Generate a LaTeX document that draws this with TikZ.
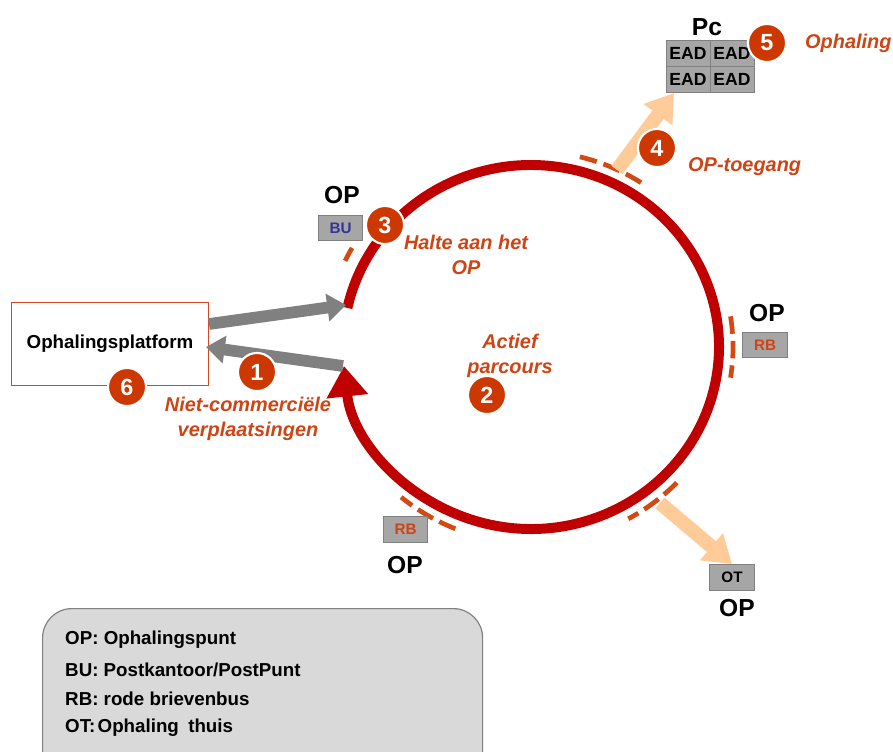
\documentclass[tikz,border=0pt]{standalone}
\usepackage{fontspec}
\setmainfont{Liberation Sans}
\usetikzlibrary{arrows.meta}

\definecolor{ringred}{RGB}{192,0,0}
\definecolor{badgered}{RGB}{204,56,0}
\definecolor{labelred}{RGB}{206,68,20}
\definecolor{dashred}{RGB}{212,72,18}
\definecolor{peach}{RGB}{255,204,153}
\definecolor{arrowgray}{RGB}{128,128,128}
\definecolor{boxgray}{RGB}{166,166,166}
\definecolor{boxedge}{RGB}{128,128,128}
\definecolor{legendfill}{RGB}{217,217,217}
\definecolor{bublue}{RGB}{51,51,153}
\definecolor{platformedge}{RGB}{212,74,30}

\begin{document}
\begin{tikzpicture}[x=0.03cm,y=-0.03cm,
  ring/.style={draw=ringred,line width=8.5pt},
  dashring/.style={draw=dashred,line width=4pt,dash pattern=on 15pt off 6pt},
  badge/.style={circle,fill=badgered,draw=white,line width=1.8pt,minimum size=32.5pt,
    inner sep=0pt,text=white,font=\bfseries\fontsize{20}{20}\selectfont},
  oplabel/.style={font=\bfseries\fontsize{21}{21}\selectfont,inner sep=0pt},
  graybox/.style={rectangle,fill=boxgray,draw=boxedge,line width=0.9pt,
    minimum width=38pt,minimum height=22pt,inner sep=0pt,
    font=\bfseries\fontsize{13}{13}\selectfont},
  eadcell/.style={rectangle,fill=boxgray,draw=boxedge,line width=0.8pt,
    minimum width=37.6pt,minimum height=22.2pt,inner sep=0pt,
    font=\bfseries\fontsize{15}{15}\selectfont},
  stepnote/.style={text=labelred,font=\bfseries\itshape\fontsize{17}{21}\selectfont,
    align=center,inner sep=0pt},
  grayarrow/.style={draw=arrowgray,line width=10pt,
    -{Triangle[length=16pt,width=23pt,fill=arrowgray]}},
  peacharrow/.style={draw=peach,line width=12pt,
    -{Triangle[length=23pt,width=29pt,fill=peach]}},
  legendline/.style={anchor=west,inner sep=0pt,font=\bfseries\fontsize{16}{16}\selectfont}
]
\useasboundingbox (0,0) rectangle (893,751);
\clip (0,0) rectangle (893,751);

% the collection round
\coordinate (ctr) at (531,347);
\draw[ring,-{Triangle[length=26pt,width=34pt,fill=ringred]}]
  (ctr) ++(-167.6:188 and 182) arc[start angle=-167.6,end angle=174,x radius=188,y radius=182];

% dashed marks for the collection points along the round
\draw[dashring] (ctr) ++(-76:202 and 196) arc[start angle=-76,end angle=-57,x radius=202,y radius=196];
\draw[dashring] (ctr) ++(-9:202 and 196) arc[start angle=-9,end angle=9,x radius=202,y radius=196];
\draw[dashring] (ctr) ++(43.8:202 and 196) arc[start angle=43.8,end angle=61.2,x radius=202,y radius=196];
\draw[dashring] (ctr) ++(112:202 and 196) arc[start angle=112,end angle=130,x radius=202,y radius=196];
\draw[draw=dashred,line width=4pt] (ctr) ++(-154.5:206 and 200) arc[start angle=-154.5,end angle=-150.3,x radius=206,y radius=200];

% collection platform
\node[rectangle,draw=platformedge,line width=1.3pt,minimum width=168pt,minimum height=71pt,
  font=\bfseries\fontsize{16}{16}\selectfont] (platform) at (110,344) {Ophalingsplatform};

% journeys to and from the platform
\coordinate (outA) at (209,324);
\coordinate (ringIn) at (346,305);
\coordinate (ringOut) at (343,366);
\coordinate (inA) at (206,347);
\draw[grayarrow] (outA) -- (ringIn);
\draw[grayarrow] (ringOut) -- (inA);

% post office stop
\node[oplabel] (opbu) at (342,195) {OP};
\node[graybox,text=bublue] (bu) at (340.5,228) {BU};

% red letter box on the right
\node[oplabel] (oprb1) at (767,313) {OP};
\node[graybox,text=labelred] (rb1) at (765,345) {RB};

% red letter box at the bottom
\node[graybox,text=labelred] (rb2) at (405.5,529.5) {RB};
\node[oplabel] (oprb2) at (405,565) {OP};

% home collection
\coordinate (otStart) at (660,503);
\node[graybox,text=black,minimum width=39pt] (ot) at (732,577.5) {OT};
\node[oplabel] (opot) at (737,608) {OP};
\draw[peacharrow] (otStart) -- (ot.north);

% business customer with its EAD boxes
\node[oplabel] (pc) at (707,27) {Pc};
\node[eadcell] (ead1) at (688,53) {EAD};
\node[eadcell] (ead2) at (732,53) {EAD};
\node[eadcell] (ead3) at (688,79) {EAD};
\node[eadcell] (ead4) at (732,79) {EAD};
\coordinate (pcStart) at (617,170);
\coordinate (pcIn) at (674,93);
\draw[peacharrow] (pcStart) -- (pcIn);

% step labels
\node[stepnote] (t1) at (248,419) {Niet-commerciële\\verplaatsingen};
\node[stepnote] (t2) at (510,356) {Actief\\parcours};
\node[stepnote] (t3) at (466,255) {Halte aan het\\OP};
\node[stepnote,anchor=west] (t4) at (688,167) {OP-toegang};
\node[stepnote,anchor=west] (t5) at (805,43) {Ophaling};

% numbered steps
\node[badge] (b1) at (257,372) {1};
\node[badge] (b2) at (487,395) {2};
\node[badge] (b3) at (385,225) {3};
\node[badge] (b4) at (657,148) {4};
\node[badge] (b5) at (767,43) {5};
\node[badge] (b6) at (127,387) {6};

% legend
\node[rectangle,rounded corners=25pt,fill=legendfill,draw=boxedge,line width=1pt,
  anchor=north west,minimum width=375.6pt,minimum height=150pt] (legend) at (42,608) {};
\node[legendline] (l1) at (65,640) {OP: Ophalingspunt};
\node[legendline] (l2) at (65,670) {BU: Postkantoor/PostPunt};
\node[legendline] (l3) at (65,699) {RB: rode brievenbus};
\node[legendline] (l4) at (65,728) {OT:\hspace{0.12em}Ophaling\hspace{0.5em}thuis};
\end{tikzpicture}
\end{document}
